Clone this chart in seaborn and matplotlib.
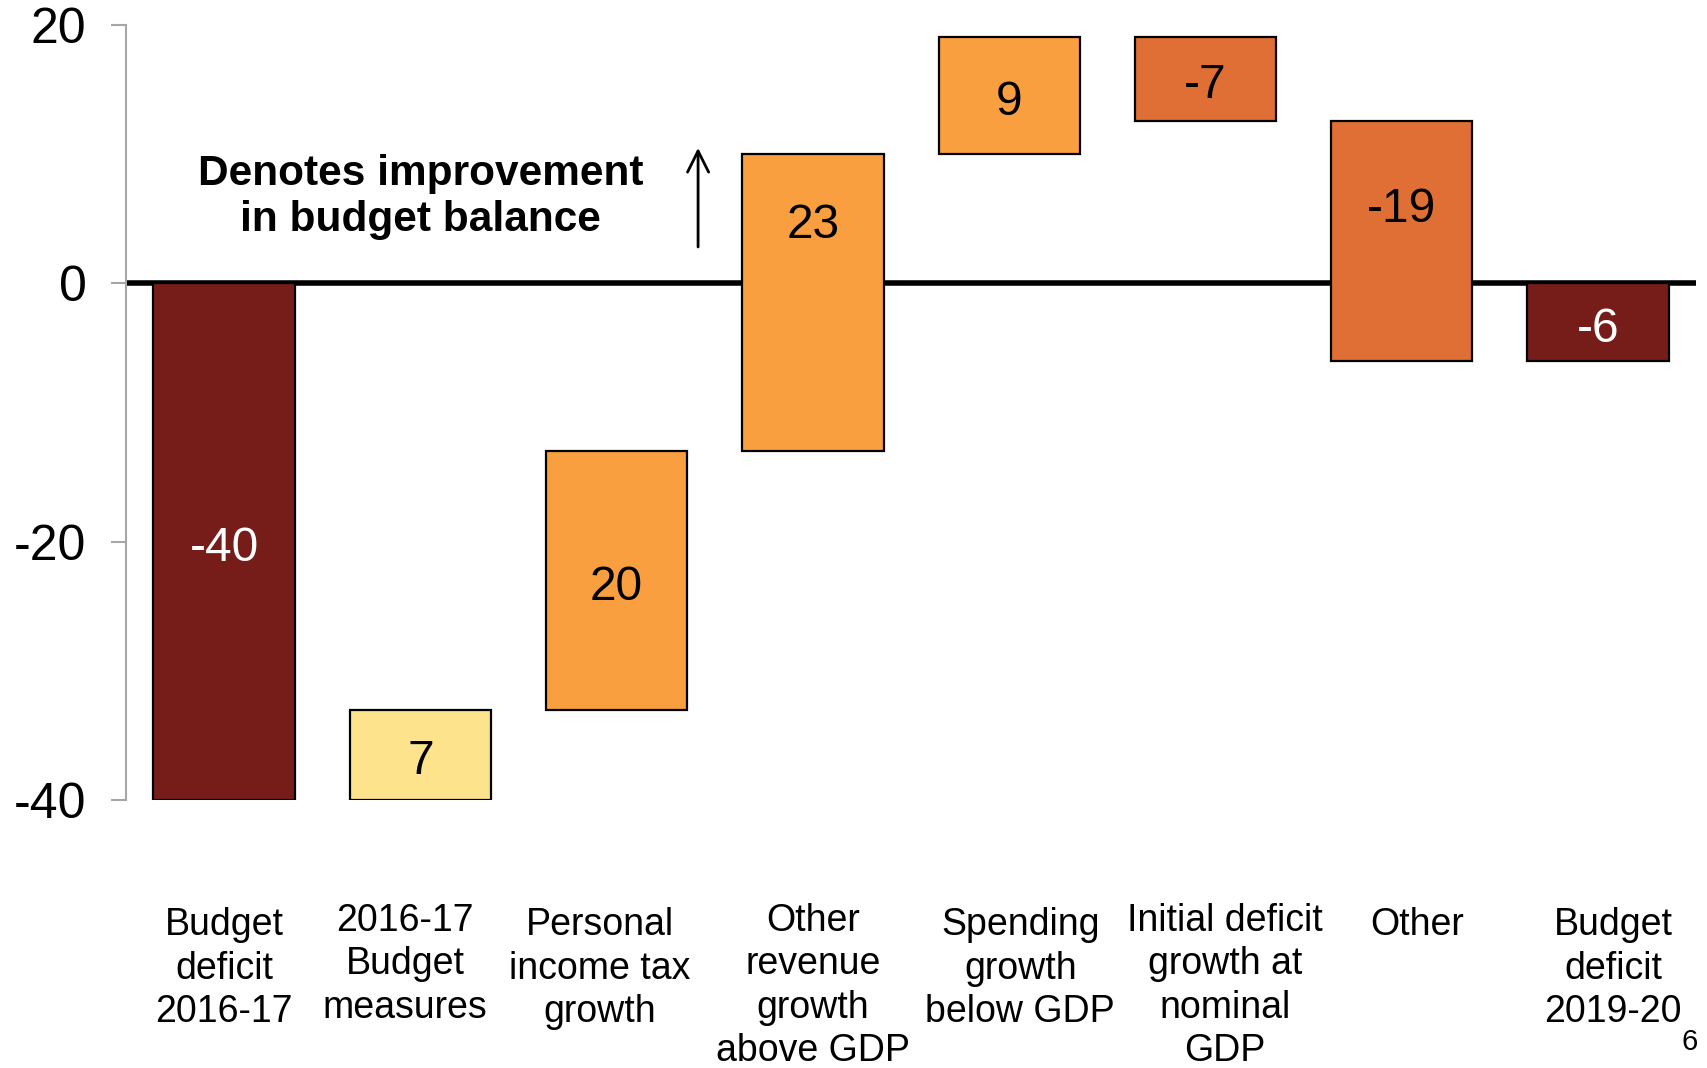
import numpy as np
import pandas as pd
import matplotlib
matplotlib.use("Agg")
import matplotlib.pyplot as plt
import matplotlib.transforms as mtransforms
import seaborn as sns

# Waterfall of the budget balance bridge, $ billion
categories = [
    "Budget\ndeficit\n2016-17",
    "2016-17\nBudget\nmeasures",
    "Personal\nincome tax\ngrowth",
    "Other\nrevenue\ngrowth\nabove GDP",
    "Spending\ngrowth\nbelow GDP",
    "Initial deficit\ngrowth at\nnominal\nGDP",
    "Other",
    "Budget\ndeficit\n2019-20",
]
values = [-40.0, 7.0, 20.0, 23.05, 9.05, -6.55, -18.55, -6.0]
is_total = [True, False, False, False, False, False, False, True]
bar_colors = ["#761D1A", "#FEE38D", "#F99F40", "#F99F40", "#F99F40",
              "#E06F35", "#E06F35", "#761D1A"]
label_colors = ["white", "black", "black", "black", "black",
                "black", "black", "white"]
yticks = [-40, -20, 0, 20]

# Small nudges (in points) of the category captions
caption_dx = [0, -11, -12, 0, 8, 14, 11, 11]
caption_dy = [0, 3, 0, 3, 0, 3, 0, 0]

# Floating bar bases: totals start at zero, changes start at the running balance
bottoms = []
running = 0.0
for v, tot in zip(values, is_total):
    if tot:
        bottoms.append(0.0)
        running = v
    else:
        bottoms.append(running)
        running += v

sns.set_theme(style="white")
plt.rcParams["font.family"] = ["Liberation Sans", "DejaVu Sans"]
plt.rcParams["text.color"] = "black"
plt.rcParams["xtick.color"] = "black"
plt.rcParams["ytick.color"] = "black"
plt.rcParams["axes.labelcolor"] = "black"

fig = plt.figure(figsize=(17.07, 10.68), dpi=100)
ax = fig.add_axes([0.0738, 0.2509, 0.9198, 0.7257])

df = pd.DataFrame({"category": categories, "height": values})
sns.barplot(data=df, x="category", y="height", order=categories,
            color=bar_colors[0], saturation=1, bottom=bottoms, width=0.72,
            errorbar=None, facecolor=bar_colors, edgecolor="black",
            linewidth=1.6, zorder=3, ax=ax)

# Zero line
ax.axhline(0, color="black", linewidth=4.0, zorder=2)

# Value labels inside bars
for i, (v, b) in enumerate(zip(values, bottoms)):
    lo, hi = sorted((b, b + v))
    if lo < 0 < hi:
        ypos = hi / 2.0
    else:
        ypos = (lo + hi) / 2.0
    ax.annotate(f"{v:.0f}", xy=(i, ypos), xytext=(0, -5),
                textcoords="offset points", ha="center", va="center",
                fontsize=34.5, color=label_colors[i], zorder=5)

# Annotation with arrow
ax.text(1.0, 6.7, "Denotes improvement\nin budget balance", ha="center",
        va="center", fontsize=30.5, fontweight="bold", linespacing=1.2,
        color="black", zorder=5)
ax.annotate("", xy=(2.415, 10.7), xytext=(2.415, 2.6),
            arrowprops=dict(arrowstyle="->", color="black", lw=2.0,
                            mutation_scale=38))

ax.set_ylim(-40, 20)
ax.set_xlim(-0.5, 7.5)
ax.set_yticks(yticks)
ax.set_yticklabels([str(t) for t in yticks], fontsize=36)
ax.set_xlabel("")
ax.set_ylabel("")

for s in ["top", "right", "bottom"]:
    ax.spines[s].set_visible(False)
ax.spines["left"].set_color("#A6A6A6")
ax.spines["left"].set_linewidth(1.5)
ax.tick_params(axis="y", direction="out", length=10.5, width=1.5,
               color="#A6A6A6", labelcolor="black", pad=18, left=True)
ax.tick_params(axis="x", length=0, pad=77, labelcolor="black")
ax.set_xticks(range(len(categories)))
ax.set_xticklabels(categories, fontsize=27, linespacing=1.27,
                   va="top", ha="center", multialignment="center")
for lab, dx, dy in zip(ax.get_xticklabels(), caption_dx, caption_dy):
    shift = mtransforms.ScaledTranslation(dx / 72.0, dy / 72.0,
                                          fig.dpi_scale_trans)
    lab.set_transform(lab.get_transform() + shift)

fig.text(0.990, 0.024, "6", ha="center", va="center", fontsize=21)

fig.savefig("out.png", dpi=100)
